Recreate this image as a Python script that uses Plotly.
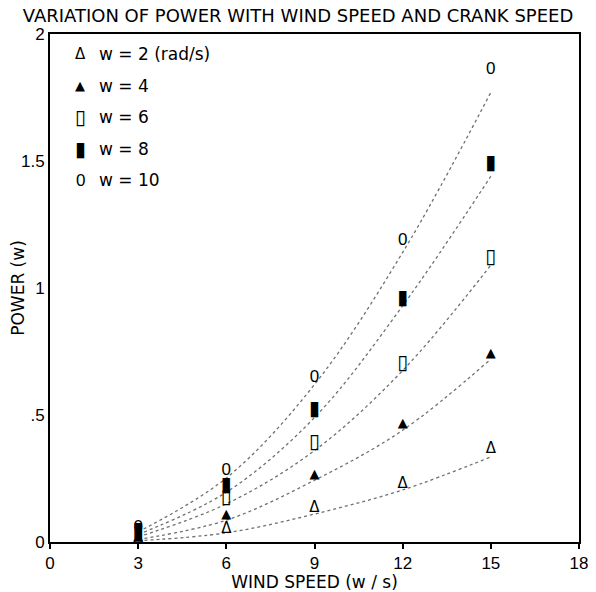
import plotly.graph_objects as go

# ---- data ----
wind_speed = [3, 6, 9, 12, 15]
crank_speeds = [2, 4, 6, 8, 10]
series_labels = ["w = 2 (rad/s)", "w = 4", "w = 6", "w = 8", "w = 10"]
glyphs = ["Δ", "▲", "▯", "▮", "0"]
glyph_sizes = [15, 13, 20, 20, 17]

# measured points (marker positions)
points_w2 = [0.012, 0.050, 0.133, 0.228, 0.366]
points_w4 = [0.022, 0.108, 0.266, 0.464, 0.740]
points_w6 = [0.032, 0.172, 0.388, 0.700, 1.120]
points_w8 = [0.045, 0.220, 0.520, 0.955, 1.490]
points_w10 = [0.058, 0.280, 0.646, 1.185, 1.860]

# fitted curves
curve_w2 = [0.005, 0.036, 0.110, 0.205, 0.335]
curve_w4 = [0.010, 0.086, 0.243, 0.440, 0.720]
curve_w6 = [0.020, 0.150, 0.360, 0.675, 1.090]
curve_w8 = [0.030, 0.196, 0.490, 0.930, 1.440]
curve_w10 = [0.040, 0.252, 0.620, 1.140, 1.770]

x_ticks = [0, 3, 6, 9, 12, 15, 18]
y_ticks = [0, 0.5, 1, 1.5, 2]
y_tick_text = ["0", ".5", "1", "1.5", "2"]

points = [points_w2, points_w4, points_w6, points_w8, points_w10]
curves = [curve_w2, curve_w4, curve_w6, curve_w8, curve_w10]

FONT = "Liberation Sans, Arial, sans-serif"
WIDE = "DejaVu Sans, sans-serif"

fig = go.Figure()
for lab, cv in zip(series_labels, curves):
    fig.add_trace(go.Scatter(
        x=wind_speed, y=cv, mode="lines", line_shape="spline",
        line=dict(color="#707070", width=1.3, dash="dot"),
        showlegend=False, hoverinfo="skip", name=lab))
for lab, pts, g, gs in zip(series_labels, points, glyphs, glyph_sizes):
    fig.add_trace(go.Scatter(
        x=wind_speed, y=pts, mode="text", text=[g] * len(pts),
        textposition="middle center",
        textfont=dict(family=WIDE if g != "0" else FONT, size=gs, color="black"),
        showlegend=False, name=lab))

# legend built as text
legend_y0 = 0.960
legend_dy = 0.062
for i, (lab, g, gs) in enumerate(zip(series_labels, glyphs, glyph_sizes)):
    yy = legend_y0 - i * legend_dy
    fig.add_annotation(x=0.057, y=yy, xref="paper", yref="paper", text=g,
                       showarrow=False, xanchor="center", yanchor="middle",
                       font=dict(family=WIDE if g != "0" else FONT, size=gs, color="black"))
    fig.add_annotation(x=0.089, y=yy, xref="paper", yref="paper", text=lab,
                       showarrow=False, xanchor="left", yanchor="middle",
                       font=dict(family=WIDE, size=17, color="black"))

fig.update_layout(
    width=588, height=584,
    margin=dict(l=42, r=17, t=26, b=50),
    paper_bgcolor="white", plot_bgcolor="white",
    font=dict(family=FONT, size=17, color="black"),
    title=dict(text="VARIATION OF POWER WITH WIND SPEED AND CRANK SPEED",
               x=290 / 588, xanchor="center", y=1 - 8 / 584, yanchor="middle", yref="container",
               font=dict(family=WIDE, size=18, color="black")),
)
fig.update_xaxes(
    range=[0, 18], tickvals=x_ticks, ticks="outside", ticklen=5, tickwidth=1.5,
    tickcolor="black", showgrid=False, zeroline=False, automargin=False,
    showline=True, linecolor="black", linewidth=2, mirror=True,
    title=dict(text="WIND SPEED (w / s)", standoff=2, font=dict(family=WIDE, size=17)),
    tickfont=dict(size=17),
)
fig.update_yaxes(
    range=[0, 2], tickvals=y_ticks, ticktext=y_tick_text, ticks="",
    showgrid=False, zeroline=False, automargin=False,
    showline=True, linecolor="black", linewidth=2, mirror=True,
    title=dict(text="POWER (w)", standoff=2, font=dict(family=WIDE, size=17)),
    tickfont=dict(size=17),
)

fig.write_html("out.html")
